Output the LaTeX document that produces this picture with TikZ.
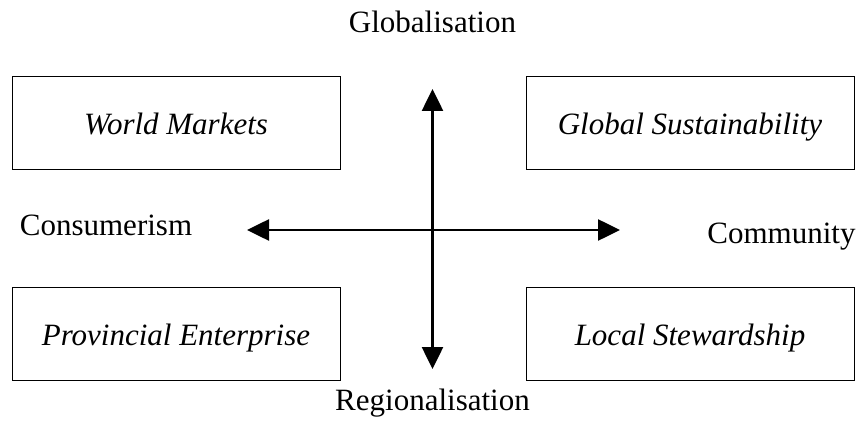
\documentclass[tikz,border=0pt]{standalone}
\usepackage{fontspec}
\setmainfont{Liberation Serif}
\usetikzlibrary{arrows.meta}

\begin{document}
\begin{tikzpicture}[x=0.5pt, y=-0.5pt,
        scenario box/.style={draw, line width=0.5pt, minimum width=164pt,
            minimum height=46.5pt, inner sep=0pt, text height=13.5pt, text depth=2pt,
            font=\fontsize{15.5}{18}\selectfont\itshape},
        axis label/.style={inner sep=0pt, font=\fontsize{15.5}{18}\selectfont},
        axis arrow/.style={line width=1.3pt, {Triangle[length=11pt,width=10.5pt]}-{Triangle[length=11pt,width=10.5pt]}}]
    \useasboundingbox (0,0) rectangle (863,433);
    % the four scenarios
    \draw (176,123.5) node (worldmarkets) [scenario box] {World Markets};
    \draw (690,123.5) node (globalsust) [scenario box] {Global Sustainability};
    \draw (176,333.5) node (provincial) [scenario box] {Provincial Enterprise};
    \draw (690,333.5) node (localstew) [scenario box] {Local Stewardship};
    % axis ends
    \coordinate (top) at (432.5,89);
    \coordinate (bottom) at (432.5,369);
    \coordinate (left) at (247,230);
    \coordinate (right) at (620,230);
    \draw[axis arrow] (bottom) -- (top);
    \draw[axis arrow] (left) -- (right);
    % axis labels
    \draw (432.5,33) node (global) [axis label, anchor=base] {Globalisation};
    \draw (432.5,410) node (regional) [axis label, anchor=base] {Regionalisation};
    \draw (106,235) node (consumer) [axis label, anchor=base] {Consumerism};
    \draw (781.5,243) node (community) [axis label, anchor=base] {Community};
\end{tikzpicture}
\end{document}
